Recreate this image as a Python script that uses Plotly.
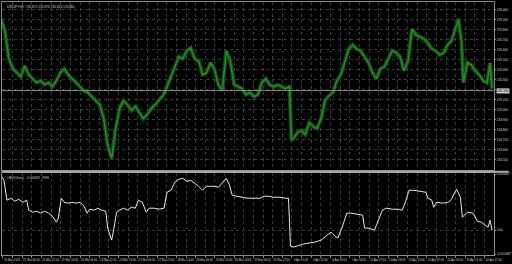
import plotly.graph_objects as go

symbol_title = "USDJPY,H1  135.875 135.876 135.810 135.862"
indicator_title = "OBV(Close)  -0.004587  9999"

price_x = [0, 4, 8, 12, 16, 20, 24, 28, 32, 36, 40, 44, 48, 52, 56, 60, 64, 68, 72, 76,
           80, 84, 88, 92, 96, 100, 104, 108, 112, 116, 120, 124, 128, 132, 136, 140, 144, 148, 152, 156,
           160, 164, 168, 172, 176, 180, 184, 188, 192, 196, 200, 204, 208, 212, 216, 220, 224, 228, 232, 236,
           240, 244, 248, 252, 256, 260, 264, 268, 272, 276, 280, 284, 288, 292, 294, 296, 300, 304, 308, 312,
           316, 320, 324, 328, 332, 336, 340, 344, 348, 352, 356, 360, 364, 368, 372, 376, 380, 384, 388, 392,
           396, 400, 404, 408, 412, 416, 420, 424, 428, 432, 436, 440, 444, 448, 452, 456, 460, 463, 466, 468,
           472, 476, 480, 484, 488, 492, 495, 497]
price_close = [135.91, 135.79, 135.51, 135.41, 135.37, 135.33, 135.44, 135.35, 135.31, 135.27,
               135.29, 135.25, 135.27, 135.23, 135.29, 135.37, 135.41, 135.35, 135.31, 135.27,
               135.23, 135.19, 135.17, 135.13, 135.09, 135.05, 134.91, 134.64, 134.51, 134.81,
               135.01, 135.09, 135.05, 134.99, 135.03, 134.97, 134.91, 134.95, 135.01, 135.05,
               135.09, 135.14, 135.23, 135.33, 135.45, 135.53, 135.51, 135.59, 135.62, 135.51,
               135.49, 135.35, 135.37, 135.47, 135.41, 135.25, 135.19, 135.59, 135.49, 135.25,
               135.23, 135.21, 135.15, 135.17, 135.13, 135.15, 135.27, 135.31, 135.25, 135.23,
               135.25, 135.23, 135.21, 135.23, 134.69, 134.71, 134.77, 134.79, 134.75, 134.87,
               134.83, 134.81, 134.91, 135.09, 135.14, 135.17, 135.29, 135.35, 135.47, 135.61,
               135.65, 135.61, 135.59, 135.53, 135.47, 135.37, 135.31, 135.41, 135.43, 135.51,
               135.59, 135.57, 135.53, 135.39, 135.49, 135.81, 135.75, 135.73, 135.71, 135.67,
               135.61, 135.59, 135.55, 135.57, 135.65, 135.69, 135.83, 135.91, 135.69, 135.27,
               135.47, 135.45, 135.39, 135.35, 135.29, 135.27, 135.47, 135.21]
last_price = 135.19

ind_x = [0, 3, 6, 10, 14, 18, 22, 26, 28, 32, 36, 40, 44, 48, 52, 56, 58, 61, 64, 68,
         72, 76, 80, 84, 87, 90, 94, 98, 102, 106, 108, 112, 114, 117, 120, 124, 128, 132, 136, 139,
         143, 147, 150, 155, 160, 165, 168, 172, 176, 180, 184, 188, 192, 196, 200, 204, 208, 212, 216, 220,
         224, 228, 231, 234, 238, 244, 250, 256, 262, 266, 270, 276, 282, 288, 291, 293, 296, 300, 306, 312,
         318, 324, 330, 334, 338, 341, 345, 350, 354, 360, 366, 368, 372, 378, 382, 386, 390, 396, 402, 406,
         409, 413, 418, 424, 430, 432, 436, 438, 441, 447, 453, 456, 461, 465, 467, 472, 478, 482, 486, 490,
         493, 495, 497]
ind_values = [0.0055, 0.0050, 0.0030, 0.0032, 0.0029, 0.0031, 0.0028, 0.0030, 0.0020, 0.0018,
              0.0019, 0.0017, 0.0019, 0.0017, 0.0014, 0.0008, 0.0012, 0.0032, 0.0028, 0.0027,
              0.0028, 0.0027, 0.0028, 0.0024, 0.0017, 0.0021, 0.0020, 0.0022, 0.0020, 0.0019,
              0.0002, -0.0010, 0.0000, 0.0018, 0.0020, 0.0022, 0.0020, 0.0023, 0.0022, 0.0030,
              0.0028, 0.0018, 0.0022, 0.0022, 0.0021, 0.0022, 0.0038, 0.0040, 0.0048, 0.0051,
              0.0052, 0.0049, 0.0050, 0.0047, 0.0044, 0.0040, 0.0044, 0.0044, 0.0044, 0.0043,
              0.0048, 0.0052, 0.0046, 0.0035, 0.0034, 0.0033, 0.0032, 0.0032, 0.0032, 0.0034,
              0.0034, 0.0033, 0.0033, 0.0032, 0.0032, -0.0016, -0.0017, -0.0016, -0.0014, -0.0013,
              -0.0012, -0.0010, -0.0005, -0.0002, -0.0006, -0.0008, 0.0002, 0.0017, 0.0017, 0.0016,
              0.0015, 0.0002, 0.0002, 0.0000, 0.0010, 0.0020, 0.0022, 0.0021, 0.0021, 0.0020,
              0.0027, 0.0040, 0.0040, 0.0039, 0.0038, 0.0032, 0.0030, 0.0023, 0.0028, 0.0027,
              0.0028, 0.0031, 0.0041, 0.0033, 0.0013, 0.0018, 0.0017, 0.0009, 0.0008, 0.0005,
              0.0003, 0.0010, 0.0000]

time_labels = ["20 Mar 2023", "21 Mar 06:00", "21 Mar 22:00", "22 Mar 14:00", "23 Mar 06:00",
               "23 Mar 22:00", "24 Mar 14:00", "27 Mar 06:00", "27 Mar 22:00", "28 Mar 14:00",
               "29 Mar 06:00", "29 Mar 22:00", "30 Mar 14:00", "31 Mar 06:00", "31 Mar 22:00",
               "3 Apr 14:00", "4 Apr 22:00", "6 Apr 06:00", "7 Apr 14:00", "10 Apr 07:00",
               "10 Apr 23:00", "11 Apr 15:00", "12 Apr 07:00", "12 Apr 23:00", "13 Apr 15:00",
               "14 Apr 07:00"]
price_ticks = [136.0, 135.9, 135.8, 135.7, 135.6, 135.5, 135.4, 135.3, 135.2, 135.1,
               135.0, 134.9, 134.8, 134.7, 134.6, 134.5]
ind_top_label = "0.005687"
ind_bottom_label = "-0.002487"

# grid / tick positions (two grid lines per time label)
tick_pos, tick_txt = [], []
for k, lab in enumerate(time_labels):
    tick_pos.append(2 + 19.5 * k)
    tick_txt.append(lab)
    tick_pos.append(2 + 19.5 * k + 9.75)
    tick_txt.append("")

FONT = "Liberation Sans"
GRID = "#3c3c3c"
BORDER = "#8a8a8a"
TXT = "#d0d0d0"

fig = go.Figure()
fig.add_trace(go.Scatter(x=price_x, y=price_close, mode="lines", xaxis="x2", yaxis="y",
                         line=dict(color="#134d13", width=4), hoverinfo="skip"))
fig.add_trace(go.Scatter(x=price_x, y=price_close, mode="lines", xaxis="x2", yaxis="y",
                         line=dict(color="#2a8a2a", width=1.4), hoverinfo="skip"))
fig.add_trace(go.Scatter(x=ind_x, y=ind_values, mode="lines", xaxis="x", yaxis="y2",
                         line=dict(color="#e8e8e8", width=1), hoverinfo="skip"))

H_PLOT = 254.0
main_bottom = (255 - 170) / H_PLOT
sub_top = (255 - 173) / H_PLOT

fig.update_layout(
    width=512, height=264,
    margin=dict(l=1, r=13, t=1, b=9),
    paper_bgcolor="black", plot_bgcolor="black",
    showlegend=False,
    font=dict(family=FONT, size=3.2, color=TXT),
    xaxis=dict(domain=[0, 1], anchor="y2", range=[1, 499], tickvals=tick_pos, ticktext=tick_txt,
               showgrid=True, gridcolor=GRID, griddash="dot", gridwidth=1,
               ticks="outside", ticklen=2, tickcolor=BORDER, ticklabelshift=9,
               tickfont=dict(size=2.8, color=TXT), tickangle=0,
               showline=True, linecolor=BORDER, mirror=True, zeroline=False, fixedrange=True),
    xaxis2=dict(domain=[0, 1], anchor="y", matches="x", range=[1, 499], tickvals=tick_pos,
                showticklabels=False, showgrid=True, gridcolor=GRID, griddash="dot", gridwidth=1,
                showline=True, linecolor=BORDER, mirror=True, zeroline=False),
    yaxis=dict(domain=[main_bottom, 1], side="right", range=[134.39, 136.08],
               tickvals=price_ticks, tickformat=".3f", showgrid=True, gridcolor=GRID,
               griddash="dot", gridwidth=1, ticks="outside", ticklen=1, tickcolor=BORDER,
               tickfont=dict(size=3.2, color=TXT),
               showline=True, linecolor=BORDER, mirror=True, zeroline=False),
    yaxis2=dict(domain=[0, sub_top], side="right", range=[-0.0025, 0.0057],
                tickvals=[-0.0024, 0.0, 0.0056], ticktext=[ind_bottom_label, "0.00", ind_top_label],
                showgrid=True, gridcolor=GRID, griddash="dot", gridwidth=1,
                ticks="outside", ticklen=1, tickcolor=BORDER, tickfont=dict(size=3.2, color=TXT),
                showline=True, linecolor=BORDER, mirror=True, zeroline=False),
)

# current price line + box
fig.add_shape(type="line", xref="paper", x0=0, x1=1, yref="y", y0=last_price, y1=last_price,
              line=dict(color="#8c8c8c", width=1))
fig.add_annotation(xref="paper", x=1.004, yref="y", y=last_price, text=f"{last_price:.3f}",
                   showarrow=False, xanchor="left", yanchor="middle",
                   font=dict(size=3.2, color="black"), bgcolor="#c8c8c8", borderpad=0)
# panel separator
fig.add_shape(type="line", xref="paper", x0=0, x1=1.03, yref="paper",
              y0=(main_bottom + sub_top) / 2, y1=(main_bottom + sub_top) / 2,
              line=dict(color="#a8a8a8", width=2))

fig.add_annotation(xref="paper", yref="paper", x=0.006, y=0.997, text=symbol_title, showarrow=False,
                   xanchor="left", yanchor="top", font=dict(size=3.2, color=TXT))
fig.add_annotation(xref="paper", yref="paper", x=0.006, y=sub_top - 0.004, text=indicator_title,
                   showarrow=False, xanchor="left", yanchor="top", font=dict(size=3.2, color=TXT))

fig.write_html("out.html", config={"displayModeBar": False})
